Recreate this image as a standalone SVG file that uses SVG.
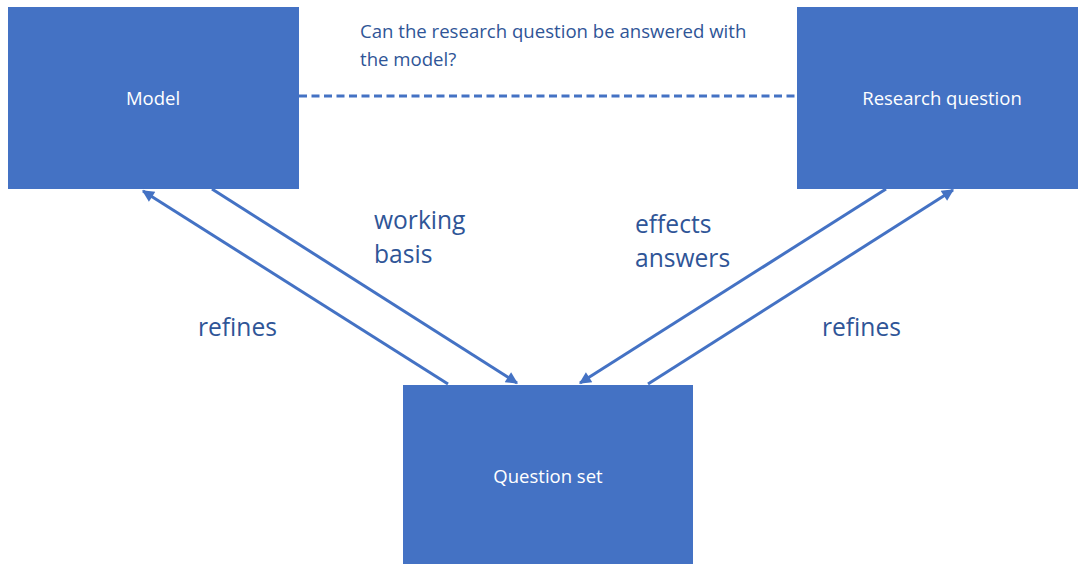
<svg xmlns="http://www.w3.org/2000/svg" width="1078" height="564" viewBox="0 0 1078 564">
<style>
.box{fill:#4472C4;}
.nt{font-family:"Open Sans","Liberation Sans",sans-serif;font-size:18.5px;fill:#FFFFFF;text-anchor:middle;}
.lbl{font-family:"Open Sans","Liberation Sans",sans-serif;font-size:24.6px;fill:#2F5597;}
.q{font-family:"Open Sans","Liberation Sans",sans-serif;font-size:18.6px;fill:#2F5597;}
.ln{stroke:#4472C4;stroke-width:3;fill:none;}
</style>
<defs>
<marker id="ah" viewBox="0 0 10 10" refX="9" refY="5" markerWidth="4.5" markerHeight="4" orient="auto" markerUnits="strokeWidth">
<path d="M0,0 L10,5 L0,10 z" fill="#4472C4"/>
</marker>
</defs>
<rect width="1078" height="564" fill="#FFFFFF"/>
<g id="connectors">
<line class="ln" x1="299" y1="96" x2="797" y2="96" stroke-dasharray="8,4.5"/>
<line class="ln" x1="448" y1="384" x2="143" y2="191" marker-end="url(#ah)"/>
<line class="ln" x1="212" y1="189" x2="517" y2="383" marker-end="url(#ah)"/>
<line class="ln" x1="886" y1="189" x2="580" y2="383" marker-end="url(#ah)"/>
<line class="ln" x1="648" y1="384" x2="953" y2="190" marker-end="url(#ah)"/>
</g>
<g id="node-model">
<rect class="box" x="8" y="7" width="291" height="182"/>
<text class="nt" x="153" y="105">Model</text>
</g>
<g id="node-research-question">
<rect class="box" x="797" y="7" width="281" height="182"/>
<text class="nt" x="942" y="105">Research question</text>
</g>
<g id="node-question-set">
<rect class="box" x="403" y="385" width="290" height="179"/>
<text class="nt" x="548" y="483">Question set</text>
</g>
<g id="labels">
<text class="q" x="360" y="38">Can the research question be answered with</text>
<text class="q" x="360" y="66">the model?</text>
<text class="lbl" x="374" y="229">working</text>
<text class="lbl" x="374" y="263">basis</text>
<text class="lbl" x="635" y="233">effects</text>
<text class="lbl" x="635" y="267">answers</text>
<text class="lbl" x="198" y="336">refines</text>
<text class="lbl" x="822" y="336">refines</text>
</g>
</svg>
